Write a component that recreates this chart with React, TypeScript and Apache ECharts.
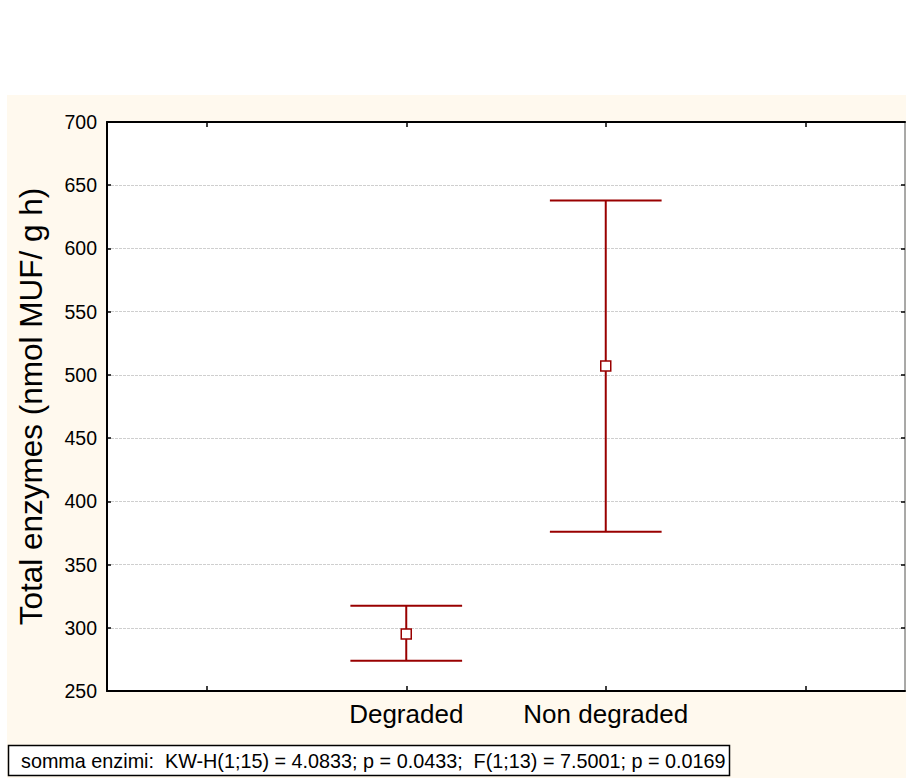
import React, { useEffect, useRef } from "react";
import * as echarts from "echarts";

const categories = ["Degraded", "Non degraded"];
const means = [295, 507];
const upper = [317.5, 638];
const lower = [274, 376];
const yMin = 250;
const yMax = 700;
const yStep = 50;
const yTitle = "Total enzymes (nmol MUF/ g h)";
const statsText =
  "somma enzimi:  KW-H(1;15) = 4.0833; p = 0.0433;  F(1;13) = 7.5001; p = 0.0169";

const FONT = "'Liberation Sans', Arial, sans-serif";
const RED = "#990000";

export default function App() {
  const ref = useRef<HTMLDivElement>(null);
  useEffect(() => {
    if (!ref.current) return;
    const chart = echarts.init(ref.current, null, { renderer: "svg" });
    const xData = ["", ...categories, " "];
    const barData = categories.map((c, i) => [i + 1, lower[i], upper[i]]);
    const meanData = categories.map((c, i) => [i + 1, means[i]]);
    chart.setOption({
      animation: false,
      textStyle: { fontFamily: FONT },
      grid: {
        left: 107,
        top: 122,
        right: 1,
        bottom: 87,
        show: true,
        backgroundColor: "#ffffff",
        borderWidth: 0,
      },
      xAxis: [
        {
          type: "category",
          data: xData,
          position: "bottom",
          axisLine: { show: true, lineStyle: { color: "#000", width: 2 } },
          axisTick: { show: true, inside: true, alignWithLabel: true, length: 5, lineStyle: { color: "#000", width: 1.5 } },
          axisLabel: { color: "#000", fontSize: 26, fontFamily: FONT, margin: 10, interval: 0 },
          splitLine: { show: false },
        },
        {
          type: "category",
          data: xData,
          position: "top",
          axisLine: { show: true, lineStyle: { color: "#000", width: 2 } },
          axisTick: { show: true, inside: true, alignWithLabel: true, length: 5, lineStyle: { color: "#000", width: 1.5 } },
          axisLabel: { show: false },
          splitLine: { show: false },
        },
      ],
      yAxis: [
        {
          type: "value",
          min: yMin,
          max: yMax,
          interval: yStep,
          position: "left",
          name: yTitle,
          nameLocation: "middle",
          nameRotate: 90,
          nameGap: 60,
          nameTextStyle: { color: "#000", fontSize: 31.5, fontFamily: FONT },
          axisLine: { show: true, lineStyle: { color: "#000", width: 2 } },
          axisTick: { show: true, inside: true, length: 4, lineStyle: { color: "#000", width: 1.5 } },
          axisLabel: { color: "#000", fontSize: 19.5, fontFamily: FONT, margin: 10 },
          splitLine: { show: true, lineStyle: { color: "#cfcfcf", width: 1, type: [3, 1] } },
        },
        {
          type: "value",
          min: yMin,
          max: yMax,
          interval: yStep,
          position: "right",
          axisLine: { show: true, lineStyle: { color: "#8c8c8c", width: 1.5 } },
          axisTick: { show: true, inside: true, length: 4, lineStyle: { color: "#000", width: 1.5 } },
          axisLabel: { show: false },
          splitLine: { show: false },
        },
      ],
      series: [
        {
          type: "custom",
          xAxisIndex: 0,
          yAxisIndex: 0,
          data: barData,
          z: 3,
          renderItem: (params: any, api: any) => {
            const xi = api.value(0);
            const lo = api.coord([xi, api.value(1)]);
            const hi = api.coord([xi, api.value(2)]);
            const half = api.size([1, 0])[0] * 0.28;
            const style = { stroke: RED, lineWidth: 2 };
            return {
              type: "group",
              children: [
                { type: "line", shape: { x1: lo[0], y1: lo[1], x2: hi[0], y2: hi[1] }, style },
                { type: "line", shape: { x1: hi[0] - half, y1: hi[1], x2: hi[0] + half, y2: hi[1] }, style },
                { type: "line", shape: { x1: lo[0] - half, y1: lo[1], x2: lo[0] + half, y2: lo[1] }, style },
              ],
            };
          },
        },
        {
          type: "scatter",
          xAxisIndex: 0,
          yAxisIndex: 0,
          data: meanData,
          symbol: "rect",
          symbolSize: 10,
          z: 4,
          itemStyle: { color: "#ffffff", borderColor: RED, borderWidth: 1.5, opacity: 1 },
          emphasis: { disabled: true },
        },
      ],
      graphic: [
        {
          type: "rect",
          shape: { x: 8.5, y: 745.5, width: 721, height: 30 },
          style: { fill: "#ffffff", stroke: "#000", lineWidth: 1.5 },
          z: 10,
        },
        {
          type: "text",
          x: 21,
          y: 760.5,
          style: {
            text: statsText,
            fill: "#000",
            fontSize: 19.8,
            fontFamily: FONT,
            verticalAlign: "middle",
            align: "left",
          },
          z: 11,
        },
      ],
    });
    return () => chart.dispose();
  }, []);

  return (
    <div style={{ position: "absolute", left: 0, top: 0, width: 906, height: 778, background: "#ffffff", overflow: "hidden" }}>
      <div style={{ position: "absolute", left: 7, top: 95, width: 899, height: 683, background: "#FFF9EE" }} />
      <div ref={ref} style={{ position: "absolute", left: 0, top: 0, width: 906, height: 778 }} />
    </div>
  );
}
